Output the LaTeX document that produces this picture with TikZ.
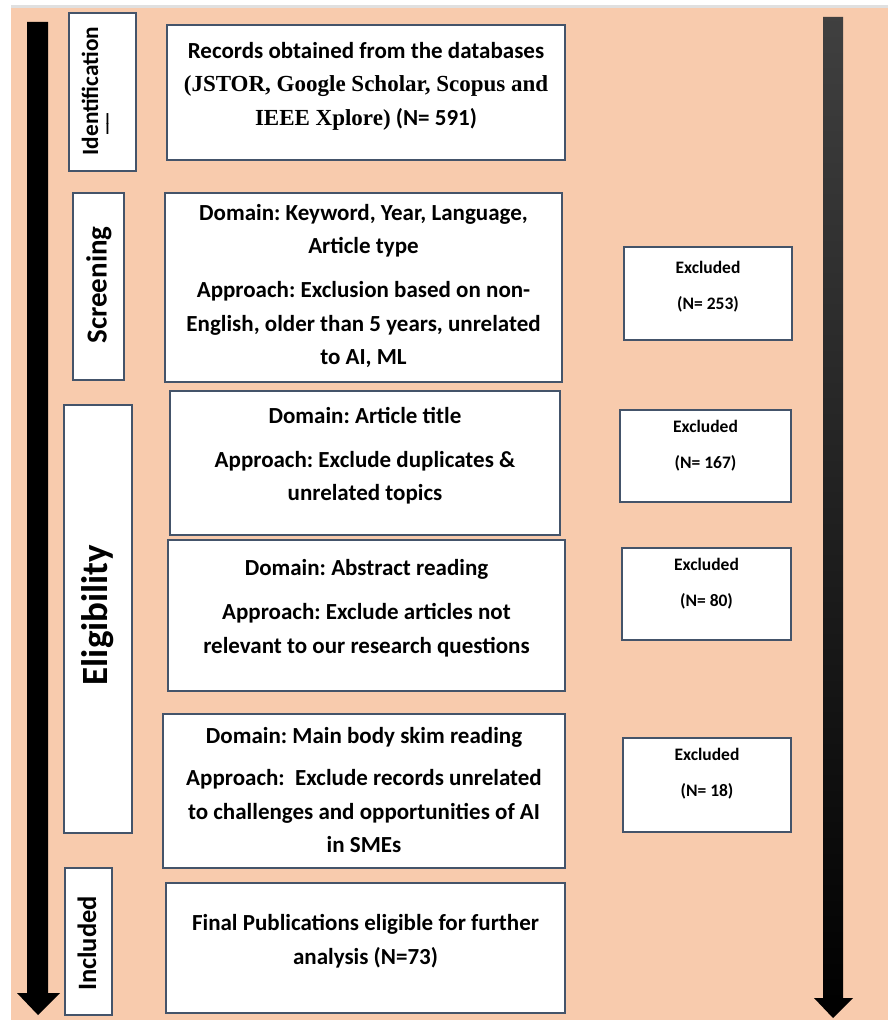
\documentclass[tikz,border=0pt]{standalone}
\usepackage{fontspec}
\setmainfont{Carlito}
\newfontfamily\serifb{Liberation Serif}
\definecolor{peach}{HTML}{F8CBAD}
\definecolor{edge}{HTML}{44546A}
\frenchspacing
\tikzset{
  box/.style={draw=edge, line width=1.3pt, fill=white, inner sep=0pt, outer sep=0pt},
  txt/.style={font=\fontsize{23}{33.5}\selectfont\bfseries, align=center, inner sep=0pt},
  extxt/.style={font=\fontsize{17.5}{36}\selectfont\bfseries, align=center, inner sep=0pt},
  stage/.style={font=\fontsize{#1}{#1}\selectfont\bfseries, rotate=90, inner sep=0pt},
}
\begin{document}
\begin{tikzpicture}[x=1pt,y=-1pt]
\useasboundingbox (0,0) rectangle (888,1025);
\fill[white] (0,0) rectangle (888,1025);
\fill[peach] (11,8) rectangle (888,1020);
\fill[black!12] (11,5) rectangle (888,8);

% arrows
\fill[black] (27,22) -- (48,22) -- (48,993) -- (60,993) -- (38,1015) -- (17,993) -- (27,993) -- cycle;
\shade[top color=black!75, bottom color=black] (823,17) -- (843,17) -- (843,998) -- (853,998) -- (833,1018) -- (814,998) -- (823,998) -- cycle;

% stage boxes
\node[box, minimum width=67, minimum height=158] (s1) at (102.5,92) {};
\node[box, minimum width=51, minimum height=187] (s2) at (98.5,286.5) {};
\node[box, minimum width=68, minimum height=428] (s3) at (98,619) {};
\node[box, minimum width=47, minimum height=147] (s4) at (88.5,941.5) {};
\node[stage=23.3] (l1) at (90,91) {Identification};
\node[stage=22] (l1m) at (107,124) {\_\_};
\node[stage=29] (l2) at (99,285) {Screening};
\node[stage=37] (l3) at (98,615) {Eligibility};
\node[stage=26.5] (l4) at (87,943.5) {Included};

% main boxes
\node[box, minimum width=398, minimum height=135] (b1) at (366,92.5) {};
\node[box, minimum width=397, minimum height=189] (b2) at (363.5,287.5) {};
\node[box, minimum width=390, minimum height=144] (b3) at (365,463) {};
\node[box, minimum width=397, minimum height=151] (b4) at (366.5,615.5) {};
\node[box, minimum width=402, minimum height=154] (b5) at (364,791) {};
\node[box, minimum width=399, minimum height=130] (b6) at (365.5,948) {};

\node[txt] (t1) at (366,86) {Records obtained from the databases\\
  {\serifb\fontsize{23}{33.5}\selectfont (JSTOR, Google Scholar, Scopus and}\\
  {\serifb\fontsize{23}{33.5}\selectfont IEEE Xplore)} (N= 591)};
\node[txt] (t2) at (363.5,286) {Domain: Keyword, Year, Language,\\Article type\\[10.5pt]
  Approach: Exclusion based on non-\\English, older than 5 years, unrelated\\to AI, ML};
\node[txt] (t3) at (365,455.5) {Domain: Article title\\[10.5pt]Approach: Exclude duplicates \&\\unrelated topics};
\node[txt] (t4) at (366.5,608) {Domain: Abstract reading\\[11pt]Approach: Exclude articles not\\relevant to our research questions};
\node[txt] (t5) at (364,790) {Domain: Main body skim reading\\[9pt]Approach:\ \ Exclude records unrelated\\to challenges and opportunities of AI\\in SMEs};
\node[txt] (t6) at (365.5,941) {Final Publications eligible for further\\analysis (N=73)};

% excluded boxes
\node[box, minimum width=168, minimum height=93] (e1) at (708,293.5) {};
\node[box, minimum width=171, minimum height=92] (e2) at (705.5,456) {};
\node[box, minimum width=169, minimum height=92] (e3) at (706.5,594) {};
\node[box, minimum width=168, minimum height=94] (e4) at (707,785) {};
\node[extxt] (x1) at (708,287) {Excluded\\(N= 253)};
\node[extxt] (x2) at (705.5,446) {Excluded\\(N= 167)};
\node[extxt] (x3) at (706.5,583.5) {Excluded\\(N= 80)};
\node[extxt] (x4) at (707,773.5) {Excluded\\(N= 18)};
\end{tikzpicture}
\end{document}
